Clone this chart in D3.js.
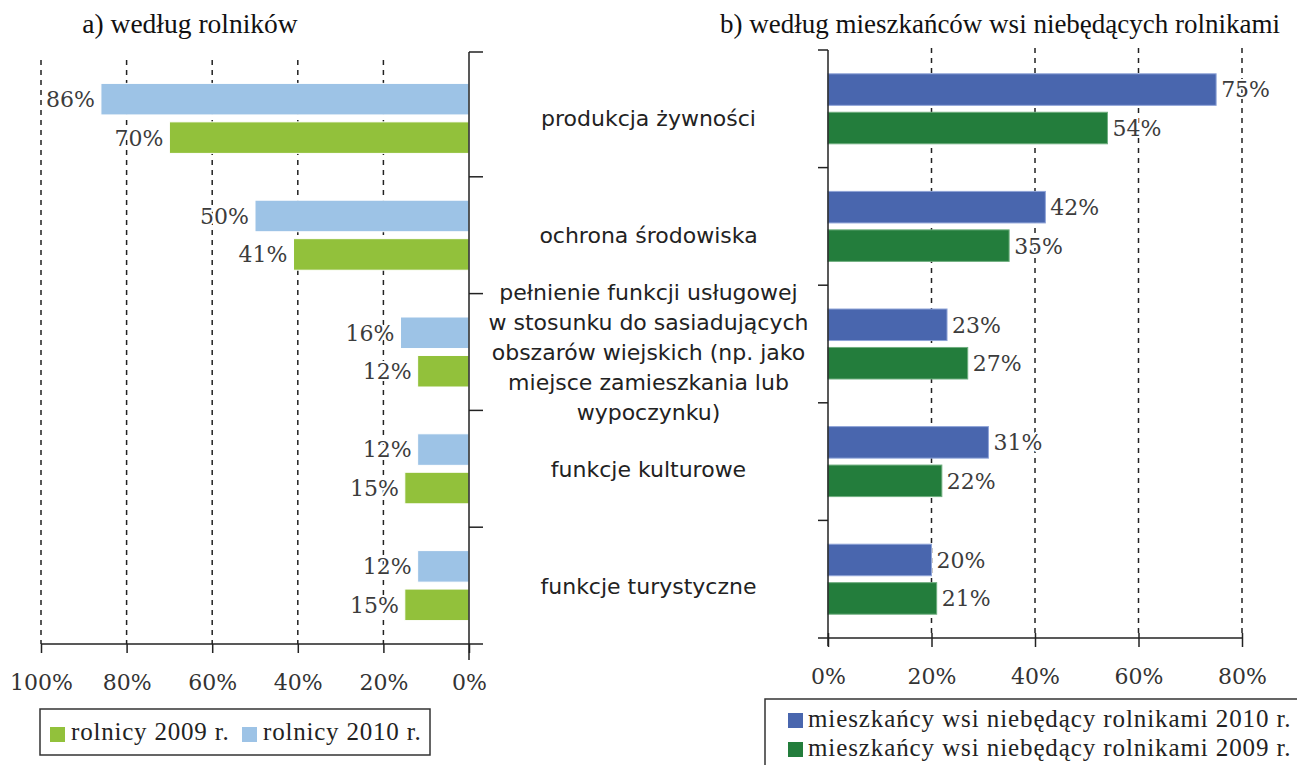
<!DOCTYPE html>
<html>
<head>
<meta charset="utf-8">
<script src="https://cdn.jsdelivr.net/npm/d3@7.9.0/dist/d3.min.js"></script>
<style>
  body { margin: 0; background: #fff; }
  svg { display: block; }
</style>
</head>
<body>
<div id="chart"></div>
<script>
// categories (shared by both panels)
const categories = ["produkcja", "ochrona", "funkcja", "kultura", "turystyka"];
const categoryLines = [
    ["produkcja żywności"],
    ["ochrona środowiska"],
    ["pełnienie funkcji usługowej", "w stosunku do sasiadujących", "obszarów wiejskich (np. jako", "miejsce zamieszkania lub", "wypoczynku)"],
    ["funkcje kulturowe"],
    ["funkcje turystyczne"]
];

// a) farmers
const farmers2010 = [86, 50, 16, 12, 12];
const farmers2009 = [70, 41, 12, 15, 15];
// b) rural residents who are not farmers
const nonFarmers2010 = [75, 42, 23, 31, 20];
const nonFarmers2009 = [54, 35, 27, 22, 21];

const leftTicks = [100, 80, 60, 40, 20, 0];
const rightTicks = [0, 20, 40, 60, 80];

const titleLeft = "a) według rolników";
const titleRight = "b) według mieszkańców wsi niebędących rolnikami";
const legendLeft = ["rolnicy 2009 r.", "rolnicy 2010 r."];
const legendRight = ["mieszkańcy wsi niebędący rolnikami 2010 r.", "mieszkańcy wsi niebędący rolnikami 2009 r."];

const colors = {
    f2010: "#9dc3e6", f2009: "#92c13b",
    n2010: "#4966ae", n2009: "#237d3c"
};

const width = 1297;
const height = 765;
const serif = "'DejaVu Serif', serif";
const times = "'Liberation Serif', 'Times New Roman', serif";
const sans = "'DejaVu Sans', Verdana, sans-serif";

const svg = d3.select('#chart')
    .append('svg')
    .attr('width', width)
    .attr('height', height);

// scales
const xL = d3.scaleLinear().domain([0, 100]).range([469, 41]);
const yL = d3.scaleBand().domain(categories).range([60, 644]);
const xR = d3.scaleLinear().domain([0, 80]).range([828, 1242]);
const yR = d3.scaleBand().domain(categories).range([50, 638]);
const inner = d3.scaleBand().domain(['2010', '2009']).range([-35, 35]).paddingInner(0.18);

function rows(v2010, v2009) {
    return categories.flatMap((c, i) => [
        { cat: c, year: '2010', value: v2010[i] },
        { cat: c, year: '2009', value: v2009[i] }
    ]);
}

function valueLabels(g, data, xPos, yScale, anchor) {
    g.append('g')
        .selectAll('text')
        .data(data)
        .join('text')
        .attr('x', xPos)
        .attr('y', d => yScale(d.cat) + yScale.bandwidth() / 2 + inner(d.year) + inner.bandwidth() / 2)
        .attr('dy', '0.36em')
        .attr('text-anchor', anchor)
        .style('font-family', serif)
        .style('font-size', '22px')
        .style('paint-order', 'stroke')
        .attr('stroke', '#fff')
        .attr('stroke-width', 4)
        .attr('fill', '#3c3c3c')
        .text(d => d.value + '%');
}

// ---------- left panel ----------
const left = svg.append('g');

left.append('g')
    .selectAll('line')
    .data(leftTicks.filter(d => d > 0))
    .join('line')
    .attr('x1', d => xL(d)).attr('x2', d => xL(d))
    .attr('y1', yL.range()[0]).attr('y2', yL.range()[1])
    .attr('stroke', '#222')
    .attr('stroke-width', 1.5)
    .attr('stroke-dasharray', '5,5');

const leftRows = rows(farmers2010, farmers2009);

left.append('g')
    .selectAll('rect')
    .data(leftRows)
    .join('rect')
    .attr('x', d => xL(d.value))
    .attr('y', d => yL(d.cat) + yL.bandwidth() / 2 + inner(d.year))
    .attr('width', d => xL(0) - xL(d.value))
    .attr('height', inner.bandwidth())
    .attr('fill', d => d.year === '2010' ? colors.f2010 : colors.f2009)
    .attr('stroke', '#fff')
    .attr('stroke-width', 1);

valueLabels(left, leftRows, d => xL(d.value) - 6, yL, 'end');

// bottom axis
const axisL = left.append('g')
    .attr('transform', `translate(0, ${yL.range()[1]})`)
    .call(d3.axisBottom(xL).tickValues(leftTicks).tickFormat(d => d + '%').tickSize(9).tickSizeOuter(0));
axisL.select('.domain').remove();
axisL.selectAll('.tick line').attr('stroke', '#222').attr('stroke-width', 1.5);
axisL.selectAll('.tick text')
    .attr('y', 30)
    .style('font-family', serif)
    .style('font-size', '22px')
    .attr('fill', '#333');
left.append('line')
    .attr('x1', xL(100)).attr('x2', xL(0) + 14)
    .attr('y1', yL.range()[1]).attr('y2', yL.range()[1])
    .attr('stroke', '#222').attr('stroke-width', 1.5);

// category axis (right side of left panel)
left.append('line')
    .attr('x1', xL(0)).attr('x2', xL(0))
    .attr('y1', yL.range()[0] - 8).attr('y2', yL.range()[1] + 16)
    .attr('stroke', '#222').attr('stroke-width', 1.5);
const leftCatTicks = [yL.range()[0] - 8].concat(categories.slice(1).map(c => yL(c)));
left.append('g')
    .selectAll('line')
    .data(leftCatTicks)
    .join('line')
    .attr('x1', xL(0)).attr('x2', xL(0) + 14)
    .attr('y1', d => d).attr('y2', d => d)
    .attr('stroke', '#222').attr('stroke-width', 1.5);

// ---------- right panel ----------
const right = svg.append('g');

right.append('g')
    .selectAll('line')
    .data(rightTicks.filter(d => d > 0))
    .join('line')
    .attr('x1', d => xR(d)).attr('x2', d => xR(d))
    .attr('y1', yR.range()[0] - 2).attr('y2', yR.range()[1])
    .attr('stroke', '#222')
    .attr('stroke-width', 1.5)
    .attr('stroke-dasharray', '5,5');

const rightRows = rows(nonFarmers2010, nonFarmers2009);

right.append('g')
    .selectAll('rect')
    .data(rightRows)
    .join('rect')
    .attr('x', xR(0))
    .attr('y', d => yR(d.cat) + yR.bandwidth() / 2 + inner(d.year))
    .attr('width', d => xR(d.value) - xR(0))
    .attr('height', inner.bandwidth())
    .attr('fill', d => d.year === '2010' ? colors.n2010 : colors.n2009)
    .attr('stroke', d => d.year === '2010' ? '#8fa4d8' : '#6fae7f')
    .attr('stroke-width', 1);

valueLabels(right, rightRows, d => xR(d.value) + 5, yR, 'start');

const axisR = right.append('g')
    .attr('transform', `translate(0, ${yR.range()[1]})`)
    .call(d3.axisBottom(xR).tickValues(rightTicks).tickFormat(d => d + '%').tickSize(9).tickSizeOuter(0));
axisR.select('.domain').remove();
axisR.selectAll('.tick line').attr('y1', -5).attr('stroke', '#222').attr('stroke-width', 1.5);
axisR.selectAll('.tick text')
    .attr('y', 30)
    .style('font-family', serif)
    .style('font-size', '22px')
    .attr('fill', '#333');
right.append('line')
    .attr('x1', xR(0) - 10).attr('x2', xR(80))
    .attr('y1', yR.range()[1]).attr('y2', yR.range()[1])
    .attr('stroke', '#222').attr('stroke-width', 1.5);

right.append('line')
    .attr('x1', xR(0)).attr('x2', xR(0))
    .attr('y1', yR.range()[0]).attr('y2', yR.range()[1] + 8)
    .attr('stroke', '#222').attr('stroke-width', 1.5);
right.append('g')
    .selectAll('line')
    .data(categories.map(c => yR(c)))
    .join('line')
    .attr('x1', xR(0) - 10).attr('x2', xR(0))
    .attr('y1', d => d).attr('y2', d => d)
    .attr('stroke', '#222').attr('stroke-width', 1.5);

// ---------- category labels in the middle ----------
const midX = (xL(0) + xR(0)) / 2;
const lineH = 30;
svg.append('g')
    .selectAll('text')
    .data(categories)
    .join('text')
    .attr('text-anchor', 'middle')
    .style('font-family', sans)
    .style('font-size', '22px')
    .attr('fill', '#222')
    .each(function(c, i) {
        const lines = categoryLines[i];
        const cy = yL(c) + yL.bandwidth() / 2;
        const y0 = cy - (lines.length - 1) * lineH / 2;
        d3.select(this).selectAll('tspan')
            .data(lines)
            .join('tspan')
            .attr('x', midX)
            .attr('y', (d, j) => y0 + j * lineH)
            .attr('dy', '0.36em')
            .text(d => d);
    });

// ---------- titles ----------
svg.append('text')
    .attr('x', 190).attr('y', 33)
    .attr('text-anchor', 'middle')
    .style('font-family', times)
    .style('font-size', '27.5px')
    .attr('fill', '#111')
    .text(titleLeft);
svg.append('text')
    .attr('x', 1000).attr('y', 33)
    .attr('text-anchor', 'middle')
    .style('font-family', times)
    .style('font-size', '27px')
    .attr('fill', '#111')
    .text(titleRight);

// ---------- legends ----------
const legL = svg.append('g');
legL.append('rect')
    .attr('x', 40).attr('y', 709).attr('width', 390).attr('height', 46)
    .attr('fill', 'none').attr('stroke', '#333').attr('stroke-width', 1.5);
const legLItems = [
    { label: legendLeft[0], color: colors.f2009, x: 50 },
    { label: legendLeft[1], color: colors.f2010, x: 242 }
];
legL.selectAll('rect.sw')
    .data(legLItems)
    .join('rect')
    .attr('class', 'sw')
    .attr('x', d => d.x).attr('y', 727).attr('width', 15).attr('height', 15)
    .attr('fill', d => d.color);
legL.selectAll('text')
    .data(legLItems)
    .join('text')
    .attr('x', d => d.x + 21).attr('y', 740)
    .style('font-family', times)
    .style('font-size', '25px')
    .style('letter-spacing', '0.8px')
    .attr('fill', '#222')
    .text(d => d.label);

const legR = svg.append('g');
legR.append('rect')
    .attr('x', 765).attr('y', 699).attr('width', 560).attr('height', 90)
    .attr('fill', 'none').attr('stroke', '#333').attr('stroke-width', 1.5);
const legRItems = [
    { label: legendRight[0], color: colors.n2010, y: 713 },
    { label: legendRight[1], color: colors.n2009, y: 742 }
];
legR.selectAll('rect.sw')
    .data(legRItems)
    .join('rect')
    .attr('class', 'sw')
    .attr('x', 788).attr('y', d => d.y).attr('width', 15).attr('height', 15)
    .attr('fill', d => d.color);
legR.selectAll('text')
    .data(legRItems)
    .join('text')
    .attr('x', 808).attr('y', d => d.y + 14)
    .style('font-family', times)
    .style('font-size', '25px')
    .style('letter-spacing', '0.9px')
    .attr('fill', '#222')
    .text(d => d.label);
</script>
</body>
</html>
